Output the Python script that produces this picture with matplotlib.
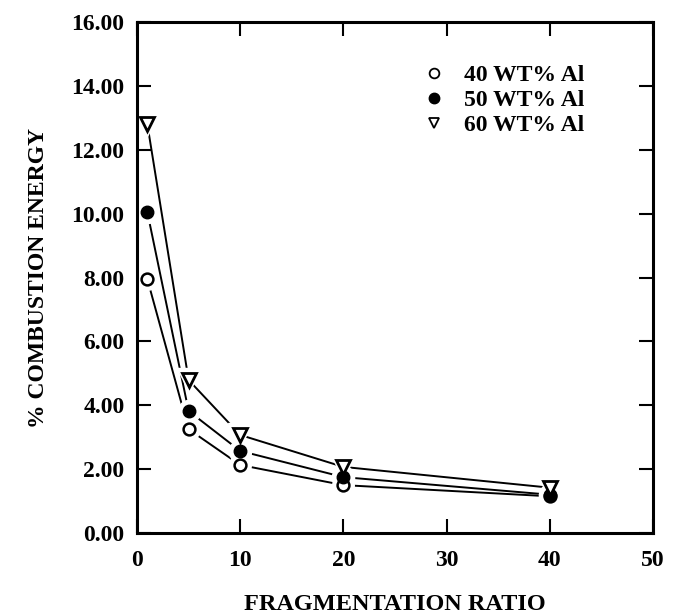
import matplotlib
matplotlib.use("Agg")
import matplotlib.pyplot as plt
from matplotlib.lines import Line2D

plt.rcParams.update({
    "font.family": "serif",
    "font.serif": ["Liberation Serif", "DejaVu Serif"],
    "font.weight": "bold",
    "axes.labelweight": "bold",
})

# fragmentation ratio and % combustion energy per aluminium loading
frag_ratio = [1, 5, 10, 20, 40]
al40 = [7.95, 3.25, 2.13, 1.50, 1.15]
al50 = [10.05, 3.82, 2.57, 1.75, 1.20]
al60 = [12.80, 4.79, 3.07, 2.07, 1.42]
labels = ["40 WT% Al", "50 WT% Al", "60 WT% Al"]

fig = plt.figure(figsize=(6.82, 6.15), dpi=100)
ax = fig.add_axes([0.2009, 0.1333, 0.7566, 0.8309])

styles = [
    dict(marker="o", ms=8.5, mfc="white", mec="black", mew=1.8),
    dict(marker="o", ms=9.0, mfc="black", mec="black", mew=1.0),
    dict(marker="v", ms=10.0, mfc="white", mec="black", mew=2.0),
]

for ys in (al40, al50, al60):
    ax.plot(frag_ratio, ys, color="black", lw=1.4, zorder=2)
# white halo so the lines stop short of the symbols
for ys, st in zip((al40, al50, al60), styles):
    ax.plot(frag_ratio, ys, ls="none", marker=st["marker"], ms=st["ms"] + 7,
            mfc="white", mec="white", zorder=3)
for ys, st in zip((al40, al50, al60), styles):
    ax.plot(frag_ratio, ys, ls="none", zorder=4, **st)

handles = [
    Line2D([], [], ls="none", marker="o", ms=7, mfc="white", mec="black", mew=1.3),
    Line2D([], [], ls="none", marker="o", ms=7.5, mfc="black", mec="black"),
    Line2D([], [], ls="none", marker="v", ms=7.5, mfc="white", mec="black", mew=1.3),
]
ax.legend(handles, labels, loc="upper left", bbox_to_anchor=(0.53, 0.94),
          frameon=False, fontsize=17, handlelength=1.0, handletextpad=0.75,
          labelspacing=0.15, borderpad=0.0)

ax.set_xlim(0, 50)
ax.set_ylim(0, 16)
ax.set_xticks(range(0, 51, 10))
ax.set_yticks(range(0, 17, 2))
ax.set_yticklabels([f"{v:.2f}" for v in range(0, 17, 2)])
ax.tick_params(axis="both", direction="in", length=10, width=1.5,
               top=True, right=True, labelsize=17)
ax.tick_params(axis="x", pad=12)
ax.tick_params(axis="y", pad=9)
for spine in ax.spines.values():
    spine.set_linewidth(2.2)
    spine.set_zorder(5)

ax.set_xlabel("FRAGMENTATION RATIO", fontsize=17.5, labelpad=17)
ax.set_ylabel("% COMBUSTION ENERGY", fontsize=17, labelpad=16)

fig.savefig("out.png", dpi=100, facecolor="white")
